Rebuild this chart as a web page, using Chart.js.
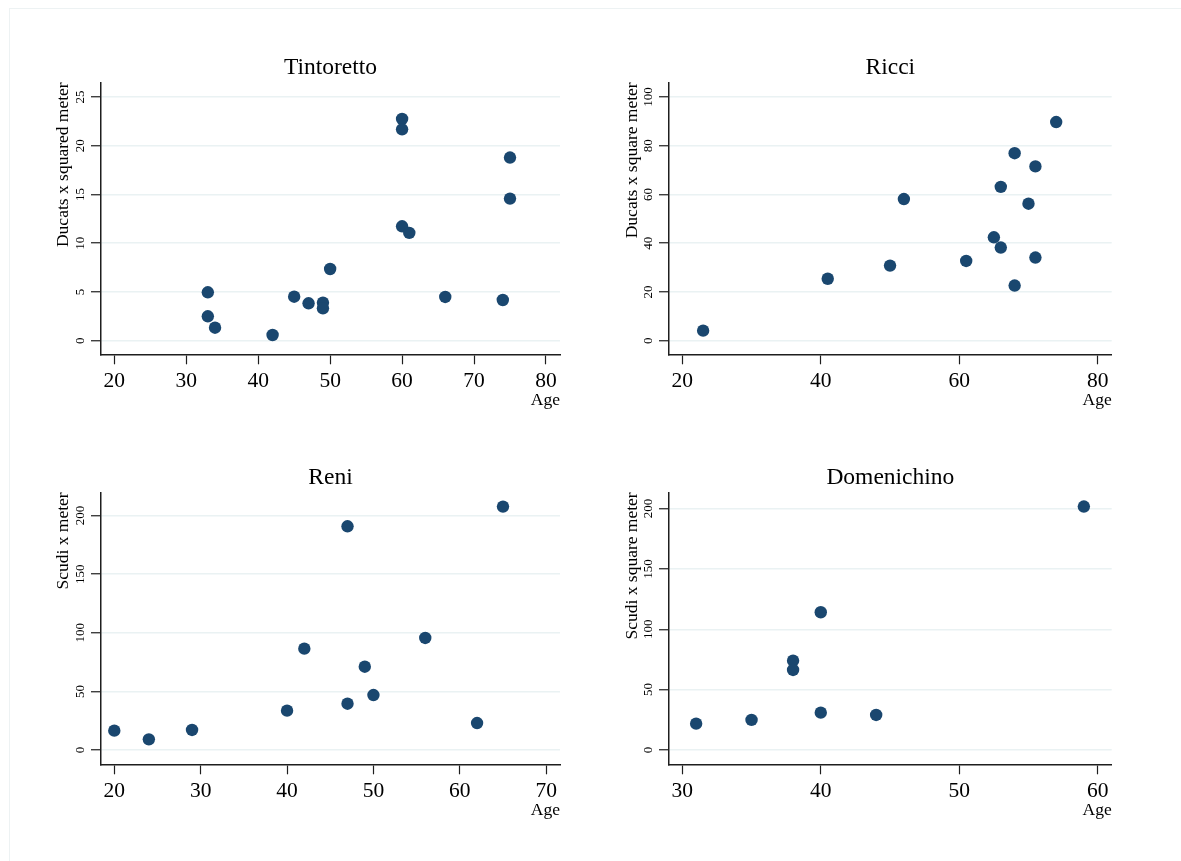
<!DOCTYPE html>
<html>
<head>
<meta charset="utf-8">
<script src="https://cdn.jsdelivr.net/npm/chart.js@4.4.1/dist/chart.umd.min.js"></script>
<style>
  html, body { margin: 0; padding: 0; background: #ffffff; }
  body { width: 1181px; height: 861px; position: relative; overflow: hidden; }
  .frame { position: absolute; left: 9px; top: 8px; width: 1300px; height: 1000px;
           border-top: 1px solid #edf2f3; border-left: 1px solid #edf2f3; }
  canvas { position: absolute; }
</style>
</head>
<body>
<div class="frame"></div>
<canvas id="c1" width="590" height="400" style="left:0px;top:30px;"></canvas>
<canvas id="c2" width="591" height="400" style="left:590px;top:30px;"></canvas>
<canvas id="c3" width="590" height="400" style="left:0px;top:440px;"></canvas>
<canvas id="c4" width="591" height="400" style="left:590px;top:440px;"></canvas>
<script>
// ---------- data ----------
const tintorettoAge   = [60, 60, 75, 75, 60, 61, 50, 33, 45, 66, 74, 47, 49, 49, 33, 34, 42];
const tintorettoValue = [22.74, 21.68, 18.78, 14.57, 11.73, 11.05, 7.35, 4.96, 4.51, 4.48, 4.17, 3.83, 3.9, 3.32, 2.5, 1.33, 0.58];

const ricciAge   = [74, 68, 71, 66, 52, 70, 65, 66, 71, 61, 50, 41, 68, 23];
const ricciValue = [89.7, 76.9, 71.5, 63.1, 58.1, 56.2, 42.4, 38.2, 34.1, 32.7, 30.8, 25.4, 22.6, 4.1];

const reniAge   = [65, 47, 56, 42, 49, 50, 47, 40, 62, 20, 29, 24];
const reniValue = [207.7, 190.9, 95.6, 86.5, 71.1, 46.9, 39.5, 33.6, 23.0, 16.5, 17.1, 9.1];

const domenichinoAge   = [59, 40, 38, 38, 40, 44, 35, 31];
const domenichinoValue = [201.7, 114.1, 74.0, 66.3, 30.9, 29.0, 24.9, 21.8];

const panelTitles = ['Tintoretto', 'Ricci', 'Reni', 'Domenichino'];
const yTitles = ['Ducats x squared meter', 'Ducats x square meter', 'Scudi x meter', 'Scudi x square meter'];
const xTitle = 'Age';

const tintorettoXTicks = [20, 30, 40, 50, 60, 70, 80];
const tintorettoYTicks = [0, 5, 10, 15, 20, 25];
const ricciXTicks = [20, 40, 60, 80];
const ricciYTicks = [0, 20, 40, 60, 80, 100];
const reniXTicks = [20, 30, 40, 50, 60, 70];
const reniYTicks = [0, 50, 100, 150, 200];
const domenichinoXTicks = [30, 40, 50, 60];
const domenichinoYTicks = [0, 50, 100, 150, 200];

// axis ranges
const tintorettoXRange = [18.15, 81.95], tintorettoYRange = [-1.4, 26.5];
const ricciXRange = [18.07, 82.02], ricciYRange = [-5.6, 106];
const reniXRange = [18.46, 71.6], reniYRange = [-12.2, 219.9];
const domenichinoXRange = [29.04, 61.01], domenichinoYRange = [-11.9, 213.5];

// ---------- style ----------
const SERIF = '"Liberation Serif", "Times New Roman", serif';
const MARKER = 'rgb(26,71,111)';
const GRID = 'rgb(234,242,243)';
const AXIS = '#1e1e1e';

function makeChart(id, title, yTitle, ages, values, xTicks, yTicks, xRange, yRange, layout) {
  const pts = ages.map((a, i) => ({ x: a, y: values[i] }));
  return new Chart(document.getElementById(id), {
    type: 'scatter',
    data: { datasets: [{
      data: pts,
      backgroundColor: MARKER,
      borderColor: MARKER,
      borderWidth: 0,
      pointRadius: 6.2,
      pointHoverRadius: 6.2
    }]},
    options: {
      responsive: false,
      animation: false,
      devicePixelRatio: 1,
      layout: { padding: { left: 0, right: layout.padRight, top: 0, bottom: layout.padBottom } },
      plugins: {
        legend: { display: false },
        tooltip: { enabled: false },
        title: {
          display: true, text: title, fullSize: false, color: '#000',
          font: { family: SERIF, size: 23.5, weight: 'normal', lineHeight: 1.2 },
          padding: { top: 23.3, bottom: 0.8 }
        }
      },
      scales: {
        x: {
          type: 'linear', position: 'bottom',
          min: xRange[0], max: xRange[1],
          afterBuildTicks: s => { s.ticks = xTicks.map(v => ({ value: v })); },
          afterFit: s => { s.height = 56.7; },
          grid: { display: true, drawOnChartArea: false, drawTicks: true, tickLength: 10, tickColor: AXIS, tickWidth: 1.2 },
          border: { display: true, color: AXIS, width: 1.5 },
          ticks: { color: '#000', padding: 4.6, maxRotation: 0, minRotation: 0, autoSkip: false,
                   font: { family: SERIF, size: 21.5, lineHeight: 1.2 } },
          title: { display: true, text: xTitle, align: 'end', color: '#000', padding: { top: 0, bottom: 0 },
                   font: { family: SERIF, size: 17.5, lineHeight: 1.2 } }
        },
        y: {
          type: 'linear', position: 'left',
          min: yRange[0], max: yRange[1],
          afterBuildTicks: s => { s.ticks = yTicks.map(v => ({ value: v })); },
          afterFit: s => { s.width = layout.yWidth; },
          grid: { display: true, drawOnChartArea: true, drawTicks: true, tickLength: 10, color: GRID, lineWidth: 1.5,
                  tickColor: AXIS, tickWidth: 1.2 },
          border: { display: true, color: AXIS, width: 1.5 },
          ticks: { color: '#000', padding: layout.yTickPad, minRotation: 90, maxRotation: 90, crossAlign: 'center',
                   autoSkip: false, font: { family: SERIF, size: 13, lineHeight: 1.2 } },
          title: { display: true, text: yTitle, align: 'end', color: '#000', padding: { top: layout.yTitlePad, bottom: 0 },
                   font: { family: SERIF, size: 17.5, lineHeight: 1.2 } }
        }
      }
    }
  });
}

makeChart('c1', panelTitles[0], yTitles[0], tintorettoAge, tintorettoValue, tintorettoXTicks, tintorettoYTicks,
          tintorettoXRange, tintorettoYRange, { padRight: 30, padBottom: 19, yWidth: 101, yTickPad: 3.5, yTitlePad: 53.0 });
makeChart('c2', panelTitles[1], yTitles[1], ricciAge, ricciValue, ricciXTicks, ricciYTicks,
          ricciXRange, ricciYRange, { padRight: 69.3, padBottom: 19, yWidth: 79, yTickPad: 0.25, yTitlePad: 32.3 });
makeChart('c3', panelTitles[2], yTitles[2], reniAge, reniValue, reniXTicks, reniYTicks,
          reniXRange, reniYRange, { padRight: 30, padBottom: 19, yWidth: 101, yTickPad: 0.5, yTitlePad: 53.0 });
makeChart('c4', panelTitles[3], yTitles[3], domenichinoAge, domenichinoValue, domenichinoXTicks, domenichinoYTicks,
          domenichinoXRange, domenichinoYRange, { padRight: 69.3, padBottom: 19, yWidth: 79, yTickPad: 0.25, yTitlePad: 32.3 });
</script>
</body>
</html>
